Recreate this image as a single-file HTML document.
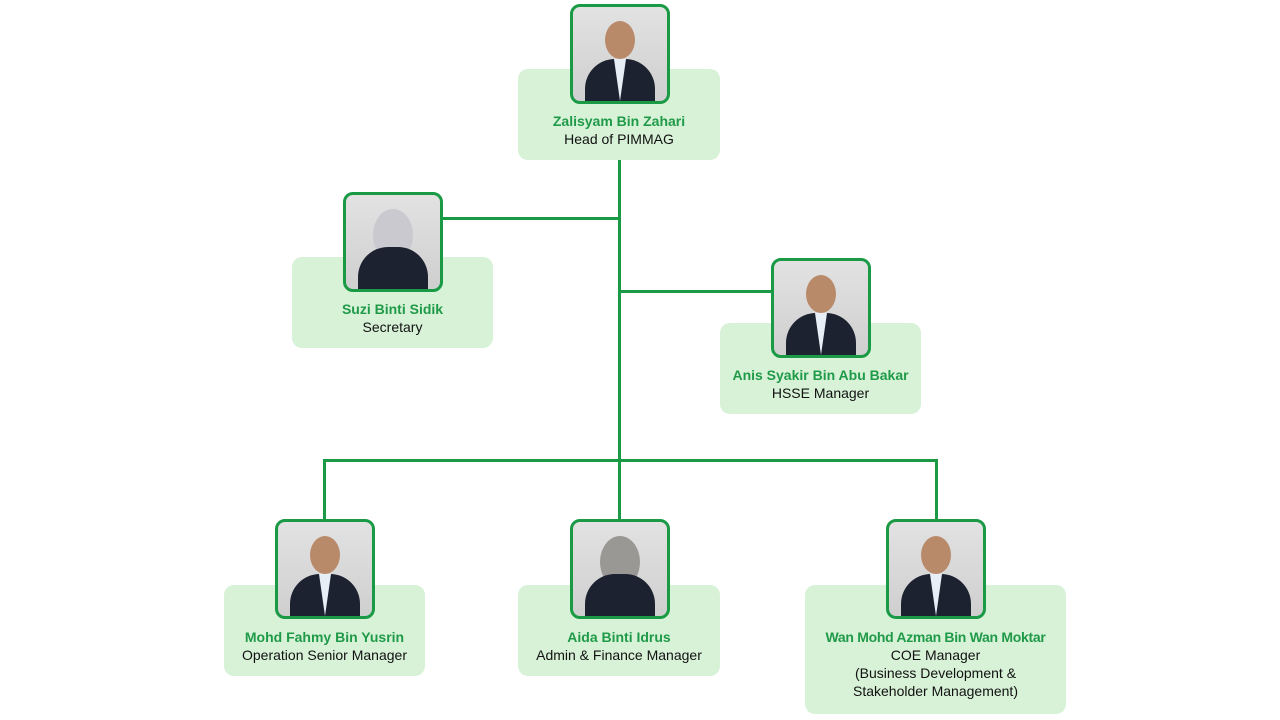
<!DOCTYPE html>
<html><head><meta charset="utf-8"><style>
body{margin:0;width:1280px;height:720px;background:#fff;position:relative;overflow:hidden;font-family:"Liberation Sans","DejaVu Sans",sans-serif}
.box{position:absolute;background:#d8f2d8;border-radius:10px;text-align:center;font-size:14px;line-height:18px;color:#111}
.box b{color:#1f9a48;display:block}
.ph{position:absolute;width:94px;height:94px;border:3px solid #1a9a45;border-radius:10px;overflow:hidden;background:linear-gradient(#e2e2e2,#cfcfcf)}
.ph .head{position:absolute;left:32px;top:14px;width:30px;height:38px;border-radius:50%;background:#b98a6a}
.ph .body{position:absolute;left:12px;top:52px;width:70px;height:50px;border-radius:30px 30px 0 0;background:#1d2230}
.ph .shirt{position:absolute;left:41px;top:52px;width:12px;height:42px;background:#e8eef5;clip-path:polygon(0 0,100% 0,50% 100%)}
.ln{position:absolute;background:#1a9a45}
</style></head><body>
<div class="ln" style="left:618px;top:158px;width:3px;height:428px"></div>
<div class="ln" style="left:440px;top:217px;width:180px;height:3px"></div>
<div class="ln" style="left:618px;top:290px;width:155px;height:3px"></div>
<div class="ln" style="left:323px;top:459px;width:615px;height:3px"></div>
<div class="ln" style="left:323px;top:459px;width:3px;height:62px"></div>
<div class="ln" style="left:935px;top:459px;width:3px;height:62px"></div>

<div class="box" style="left:518px;top:69px;width:202px;height:91px"><div style="padding-top:43px"><b>Zalisyam Bin Zahari</b>Head of PIMMAG</div></div>
<div class="ph" style="left:570px;top:4px"><div class="head"></div><div class="body"></div><div class="shirt"></div></div>

<div class="box" style="left:292px;top:257px;width:201px;height:91px"><div style="padding-top:43px"><b>Suzi Binti Sidik</b>Secretary</div></div>
<div class="ph" style="left:343px;top:192px"><div class="head" style="background:#c9c9cf;width:40px;left:27px;height:52px"></div><div class="body"></div></div>

<div class="box" style="left:720px;top:323px;width:201px;height:91px"><div style="padding-top:43px"><b>Anis Syakir Bin Abu Bakar</b>HSSE Manager</div></div>
<div class="ph" style="left:771px;top:258px"><div class="head"></div><div class="body"></div><div class="shirt"></div></div>

<div class="box" style="left:224px;top:585px;width:201px;height:91px"><div style="padding-top:43px"><b>Mohd Fahmy Bin Yusrin</b>Operation Senior Manager</div></div>
<div class="ph" style="left:275px;top:519px"><div class="head"></div><div class="body"></div><div class="shirt"></div></div>

<div class="box" style="left:518px;top:585px;width:202px;height:91px"><div style="padding-top:43px"><b>Aida Binti Idrus</b>Admin &amp; Finance Manager</div></div>
<div class="ph" style="left:570px;top:519px"><div class="head" style="background:#9a9894;width:40px;left:27px;height:52px"></div><div class="body"></div></div>

<div class="box" style="left:805px;top:585px;width:261px;height:129px"><div style="padding-top:43px"><b style="letter-spacing:-0.3px">Wan Mohd Azman Bin Wan Moktar</b>COE Manager<br>(Business Development &amp;<br>Stakeholder Management)</div></div>
<div class="ph" style="left:886px;top:519px"><div class="head"></div><div class="body"></div><div class="shirt"></div></div>
</body></html>
